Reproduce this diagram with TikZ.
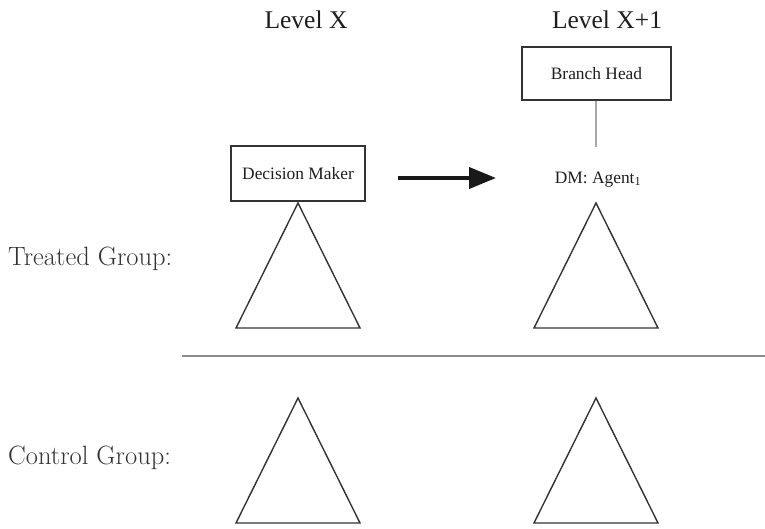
\documentclass[tikz,border=0pt]{standalone}
\usepackage{fontspec}
\newfontfamily\lab{Liberation Serif}
\usetikzlibrary{arrows.meta}
\definecolor{ink}{HTML}{333333}
\definecolor{txt}{HTML}{1E1E1E}
\definecolor{lgray}{HTML}{A8A8A8}
\definecolor{mgray}{HTML}{8A8A8A}
\tikzset{
  boxnode/.style={draw=ink, line width=1.4pt, inner sep=0pt, font=\lab\fontsize{17.4}{20}\selectfont, text=txt},
  tri/.style={draw=ink, line width=1.4pt, line join=miter},
  grouplabel/.style={anchor=base west, inner sep=0pt, font=\fontsize{26.5}{30}\selectfont, text=ink},
  levellabel/.style={anchor=base, inner sep=0pt, font=\lab\fontsize{25.5}{28}\selectfont, text=txt},
}
\begin{document}
\begin{tikzpicture}[x=1pt,y=-1pt]
\useasboundingbox (0,0) rectangle (765,528);
% level headings
\node[levellabel] (lx) at (306,28) {Level X};
\node[levellabel] (lx1) at (607,28) {Level X+1};
% group labels
\node[grouplabel] (tg) at (8,265) {Treated Group:};
\node[grouplabel] (cg) at (8,464) {Control Group:};
% boxes
\node[boxnode, minimum width=134pt, minimum height=55pt] (dm) at (298,173.5) {Decision Maker};
\node[boxnode, minimum width=149pt, minimum height=53pt] (bh) at (596.5,73.5) {Branch Head};
\node[inner sep=0pt, anchor=base, font=\lab\fontsize{17.4}{20}\selectfont, text=txt] (ag) at (598,183) {DM: Agent\textsubscript{1}};
% connectors
\coordinate (vl) at (596,147);
\draw[lgray, line width=1.2pt] (bh.south -| vl) -- (vl);
\coordinate (a1) at (398,178);
\coordinate (a2) at (496,178);
\draw[line width=4pt, black!90, -{Triangle[length=27pt,width=21pt]}] (a1) -- (a2);
% divider
\coordinate (h1) at (182,356);
\coordinate (h2) at (765,356);
\draw[mgray, line width=2pt] (h1) -- (h2);
% triangles
\coordinate (t1) at (298,203);
\coordinate (t2) at (596,203);
\coordinate (c1) at (298,398);
\coordinate (c2) at (596,398);
\draw[tri] (t1) -- ++(-62,125) -- ++(124,0) -- cycle;
\draw[tri] (t2) -- ++(-62,125) -- ++(124,0) -- cycle;
\draw[tri] (c1) -- ++(-62,125) -- ++(124,0) -- cycle;
\draw[tri] (c2) -- ++(-62,125) -- ++(124,0) -- cycle;
\end{tikzpicture}
\end{document}
